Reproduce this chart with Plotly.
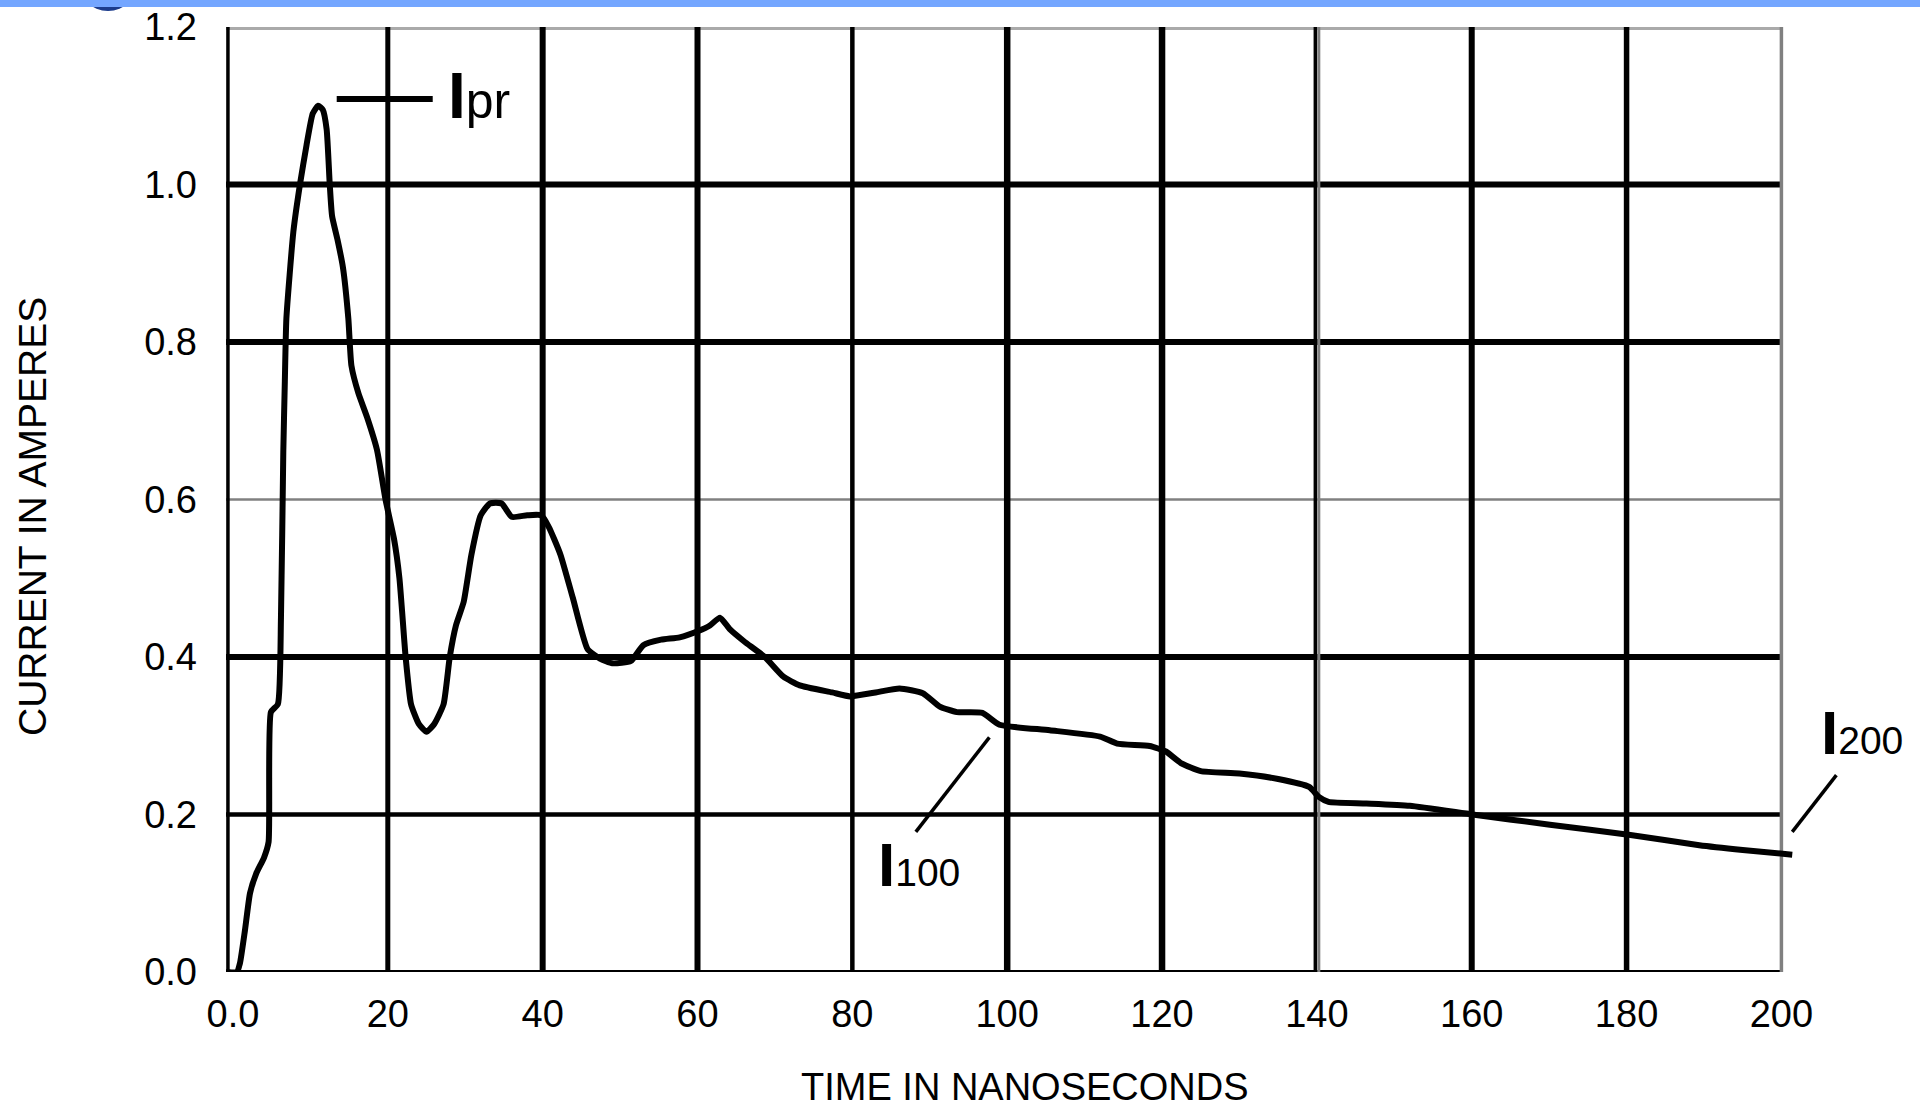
import plotly.graph_objects as go

# ---------------- data ----------------
time_ns = [-0.9, 0.5, 0.9, 1.55, 2.2, 3.0, 4.0, 4.6, 4.9, 5.8, 6.2, 6.5, 6.7, 6.9,
           7.8, 8.65, 9.5, 10.3, 11.0, 11.6, 12.1, 12.5, 12.8, 13.5, 14.2, 14.9,
           15.3, 16.2, 17.3, 18.6, 19.7, 20.8, 21.5, 22.3, 23.0, 24.0, 25.0, 26.0,
           27.2, 28.0, 28.8, 29.8, 30.8, 32.0, 33.2, 34.7, 36.0, 38.0, 39.8, 40.8,
           42.3, 43.9, 45.8, 47.4, 49.0, 51.4, 53.0, 55.3, 57.7, 60.1, 61.6, 62.9,
           64.2, 66.0, 68.7, 71.1, 73.2, 77.4, 79.7, 83.0, 86.1, 89.1, 91.3, 93.5,
           96.8, 99.0, 105.5, 112.0, 114.2, 118.4, 120.5, 122.5, 125.0, 130.0,
           135.0, 139.0, 140.3, 141.5, 146.4, 152.0, 160.1, 170.1, 180.5, 189.4,
           195.0, 201.4]
current_a = [0.0, 0.0, 0.011, 0.053, 0.10, 0.125, 0.145, 0.165, 0.33, 0.34, 0.45,
             0.66, 0.75, 0.83, 0.94, 1.0, 1.05, 1.09, 1.10, 1.095, 1.07, 1.0, 0.96,
             0.93, 0.895, 0.83, 0.77, 0.735, 0.705, 0.663, 0.60, 0.55, 0.50, 0.40,
             0.34, 0.315, 0.305, 0.315, 0.34, 0.40, 0.44, 0.47, 0.53, 0.58, 0.595,
             0.595, 0.578, 0.58, 0.58, 0.565, 0.53, 0.475, 0.41, 0.398, 0.392,
             0.395, 0.415, 0.422, 0.425, 0.433, 0.44, 0.45, 0.435, 0.42, 0.40,
             0.375, 0.364, 0.355, 0.350, 0.355, 0.360, 0.354, 0.337, 0.330, 0.329,
             0.314, 0.307, 0.299, 0.29, 0.287, 0.28, 0.265, 0.255, 0.252, 0.245,
             0.235, 0.222, 0.216, 0.214, 0.211, 0.200, 0.187, 0.174, 0.161, 0.155,
             0.149]

x_tick_vals = [0, 20, 40, 60, 80, 100, 120, 140, 160, 180, 200]
x_tick_text = ["0.0", "20", "40", "60", "80", "100", "120", "140", "160", "180", "200"]
y_tick_vals = [0.0, 0.2, 0.4, 0.6, 0.8, 1.0, 1.2]
y_tick_text = ["0.0", "0.2", "0.4", "0.6", "0.8", "1.0", "1.2"]

x_title = "TIME IN NANOSECONDS"
y_title = "CURRENT IN AMPERES"

# ---------------- layout geometry ----------------
W, H = 1920, 1111
ML, MR, MT, MB = 226, 0, 27, 139
X_MIN, X_MAX = -0.9, 217.9
Y_MIN, Y_MAX = 0.0, 1.2
PW, PH = W - ML - MR, H - MT - MB
FONT = "Liberation Sans, Arial, Helvetica, sans-serif"


def px2paper(px, py):
    return (px - ML) / PW, (H - MB - py) / PH


fig = go.Figure()
fig.add_trace(go.Scatter(x=time_ns, y=current_a, mode="lines",
                         line=dict(color="black", width=6, shape="spline", smoothing=0.5),
                         hoverinfo="x+y", showlegend=False))

shapes = []
# horizontal grid lines
h_styles = {1.2: ("#aaaaaa", 6), 1.0: ("black", 6), 0.8: ("black", 6),
            0.6: ("#808080", 2.5), 0.4: ("black", 6), 0.2: ("black", 4.5),
            0.0: ("black", 4)}
for yv, (c, w) in h_styles.items():
    shapes.append(dict(type="line", xref="x", yref="y", x0=X_MIN, x1=200,
                       y0=yv, y1=yv, line=dict(color=c, width=w), layer="below"))
# light shadow under the bottom axis
shapes.append(dict(type="line", xref="x", yref="y", x0=X_MIN, x1=200,
                   y0=-0.005, y1=-0.005, line=dict(color="#d4d4d4", width=3), layer="below"))
# vertical grid lines
v_styles = {X_MIN + 0.25: ("black", 3.5), 20: ("black", 5), 40: ("black", 6),
            60: ("black", 6), 80: ("black", 4.5), 100: ("black", 6.5),
            120: ("black", 6.5), 139.8: ("black", 3.5), 140.25: ("#808080", 3),
            160: ("black", 6), 180: ("black", 5.5), 200: ("#808080", 3.5)}
for xv, (c, w) in v_styles.items():
    shapes.append(dict(type="line", xref="x", yref="y", x0=xv, x1=xv,
                       y0=Y_MIN, y1=Y_MAX, line=dict(color=c, width=w), layer="below"))

# leader lines for labels
shapes.append(dict(type="line", xref="x", yref="y", x0=13.4, x1=25.8,
                   y0=1.1086, y1=1.1086, line=dict(color="black", width=6)))
shapes.append(dict(type="line", xref="x", yref="y", x0=97.7, x1=88.2,
                   y0=0.298, y1=0.178, line=dict(color="black", width=3.5)))
shapes.append(dict(type="line", xref="x", yref="y", x0=207.1, x1=201.4,
                   y0=0.250, y1=0.178, line=dict(color="black", width=3.5)))

# top blue band and logo fragment
bx0, by0 = px2paper(0, 0)
bx1, by1 = px2paper(W, 7)
shapes.append(dict(type="circle", xref="paper", yref="paper",
                   x0=px2paper(78, 0)[0], x1=px2paper(138, 0)[0],
                   y0=px2paper(0, 11)[1], y1=px2paper(0, -49)[1],
                   fillcolor="#1c3c8c", line=dict(width=0)))
shapes.append(dict(type="rect", xref="paper", yref="paper", x0=bx0, x1=bx1,
                   y0=by1, y1=by0, fillcolor="#74a6ff", line=dict(width=0)))

annotations = []


def add_text(text, px, py, size, xanchor="center", yanchor="middle", angle=0):
    ax_, ay_ = px2paper(px, py)
    annotations.append(dict(text=text, x=ax_, y=ay_, xref="paper", yref="paper",
                            showarrow=False, xanchor=xanchor, yanchor=yanchor,
                            textangle=angle, font=dict(family=FONT, size=size, color="black")))


add_text(x_title, 1025, 1087, 38)
add_text(y_title, 32, 517, 39, angle=-90)
add_text("<b>I</b><span style='font-size:50px'>pr</span>", 446, 96, 64, xanchor="left")
add_text("<b>I</b><span style='font-size:39px'>100</span>", 876, 864, 62, xanchor="left")
add_text("<b>I</b><span style='font-size:39px'>200</span>", 1819, 733, 62, xanchor="left")

fig.update_layout(
    width=W, height=H,
    margin=dict(l=ML, r=MR, t=MT, b=MB, pad=0),
    paper_bgcolor="white", plot_bgcolor="white",
    shapes=shapes, annotations=annotations,
    font=dict(family=FONT, color="black"),
    xaxis=dict(range=[X_MIN, X_MAX], showgrid=False, zeroline=False, showline=False,
               tickmode="array", tickvals=x_tick_vals, ticktext=x_tick_text,
               ticks="", ticklabelstandoff=16, tickfont=dict(family=FONT, size=38, color="black"),
               fixedrange=True),
    yaxis=dict(range=[Y_MIN, Y_MAX], showgrid=False, zeroline=False, showline=False,
               tickmode="array", tickvals=y_tick_vals, ticktext=y_tick_text,
               ticks="", ticklabelstandoff=28, tickfont=dict(family=FONT, size=38, color="black"),
               fixedrange=True),
)

fig.write_html("out.html", config={"displayModeBar": False},
               post_script="document.body.style.margin='0px';document.body.style.overflow='hidden';")
